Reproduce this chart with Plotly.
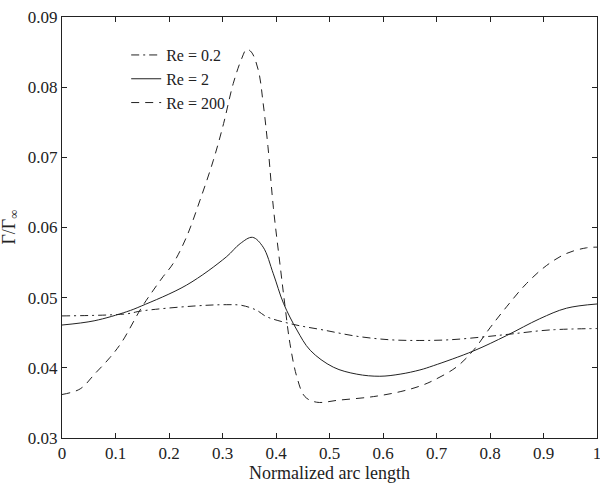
import plotly.graph_objects as go

# Re = 0.2 (dash-dot)
x_re02 = [0, 0.121, 0.148, 0.245, 0.307, 0.336, 0.364, 0.382, 0.432, 0.488,
          0.551, 0.613, 0.669, 0.725, 0.787, 0.837, 0.912, 1.0]
y_re02 = [0.0474, 0.0477, 0.0481, 0.0488, 0.0490, 0.0489, 0.0482, 0.0473, 0.0462, 0.0454,
          0.0445, 0.0440, 0.0439, 0.0440, 0.0444, 0.0448, 0.0454, 0.0456]

# Re = 2 (solid)
x_re2 = [0, 0.06, 0.121, 0.148, 0.233, 0.307, 0.333, 0.356, 0.376, 0.395, 0.414,
         0.439, 0.464, 0.507, 0.551, 0.594, 0.632, 0.669, 0.694, 0.769, 0.831,
         0.893, 0.943, 1.0]
y_re2 = [0.0461, 0.0467, 0.0480, 0.0488, 0.0518, 0.0558, 0.0577, 0.0586, 0.0572, 0.0534, 0.0492,
         0.0454, 0.0425, 0.0401, 0.0391, 0.0388, 0.0391, 0.0397, 0.0403, 0.0424, 0.0446,
         0.0470, 0.0485, 0.0491]

# Re = 200 (dashed)
x_re200 = [0, 0.034, 0.062, 0.09, 0.112, 0.148, 0.171, 0.189, 0.208, 0.233, 0.258,
           0.283, 0.302, 0.32, 0.336, 0.345, 0.354, 0.367, 0.376, 0.385, 0.395,
           0.408, 0.417, 0.426, 0.439, 0.454, 0.476, 0.518, 0.582, 0.632, 0.669,
           0.694, 0.737, 0.769, 0.8, 0.831, 0.868, 0.906, 0.943, 0.98, 1.0]
y_re200 = [0.0362, 0.0370, 0.0392, 0.0415, 0.0437, 0.0485, 0.0511, 0.0530, 0.0549, 0.0587, 0.0639,
           0.0696, 0.0748, 0.0805, 0.0841, 0.0854, 0.0850, 0.0824, 0.0777, 0.0715, 0.0629,
           0.0544, 0.0487, 0.0435, 0.0387, 0.0359, 0.0351, 0.0354, 0.0359, 0.0366, 0.0374,
           0.0382, 0.0401, 0.0425, 0.0457, 0.0487, 0.0520, 0.0546, 0.0563, 0.0571, 0.0572]

x_ticks = [0, 0.1, 0.2, 0.3, 0.4, 0.5, 0.6, 0.7, 0.8, 0.9, 1]
x_ticktext = ["0", "0.1", "0.2", "0.3", "0.4", "0.5", "0.6", "0.7", "0.8", "0.9", "1"]
y_ticks = [0.03, 0.04, 0.05, 0.06, 0.07, 0.08, 0.09]

ink = "#222222"
font = dict(family="Liberation Serif", size=17, color=ink)
title_font = dict(family="Liberation Serif", size=18, color=ink)
legend_font = dict(family="Liberation Serif", size=16, color=ink)

fig = go.Figure()
fig.add_trace(go.Scatter(x=x_re02, y=y_re02, mode="lines", name="Re = 0.2",
                         line=dict(color=ink, width=1, dash="8px,4px,2px,4px", shape="spline")))
fig.add_trace(go.Scatter(x=x_re2, y=y_re2, mode="lines", name="Re = 2",
                         line=dict(color=ink, width=1, shape="spline")))
fig.add_trace(go.Scatter(x=x_re200, y=y_re200, mode="lines", name="Re = 200",
                         line=dict(color=ink, width=1, dash="8px,6px", shape="spline")))

axis_common = dict(showgrid=False, zeroline=False, showline=True, linecolor=ink, linewidth=1,
                   mirror="ticks", ticks="inside", ticklen=5, tickcolor=ink, tickfont=font,
                   automargin=False, ticklabeloverflow="allow")

fig.update_layout(
    width=600, height=484,
    paper_bgcolor="white", plot_bgcolor="white",
    font=font,
    margin=dict(l=62, r=3, t=17, b=46),
    xaxis=dict(range=[0, 1], tickvals=x_ticks, ticktext=x_ticktext,
               title=dict(text="Normalized arc length", font=title_font, standoff=2), **axis_common),
    yaxis=dict(range=[0.03, 0.09], tickvals=y_ticks, tickformat=".2f", **axis_common),
    legend=dict(x=0.12, y=0.95, xanchor="left", yanchor="top", bgcolor="rgba(0,0,0,0)",
                borderwidth=0, font=legend_font, tracegroupgap=0),
    showlegend=True,
)

# y-axis title, placed close to the left edge as in the original
fig.add_annotation(text="Γ/Γ<sub>∞</sub>", xref="paper", yref="paper", x=-0.097, y=0.5,
                   xanchor="center", yanchor="middle", textangle=-90, showarrow=False,
                   font=title_font)

# drop the page's default body margin so the 600x484 figure fills the window
fig.write_html("out.html", config={"displayModeBar": False},
               post_script="document.body.style.margin='0';document.body.style.overflow='hidden';")
